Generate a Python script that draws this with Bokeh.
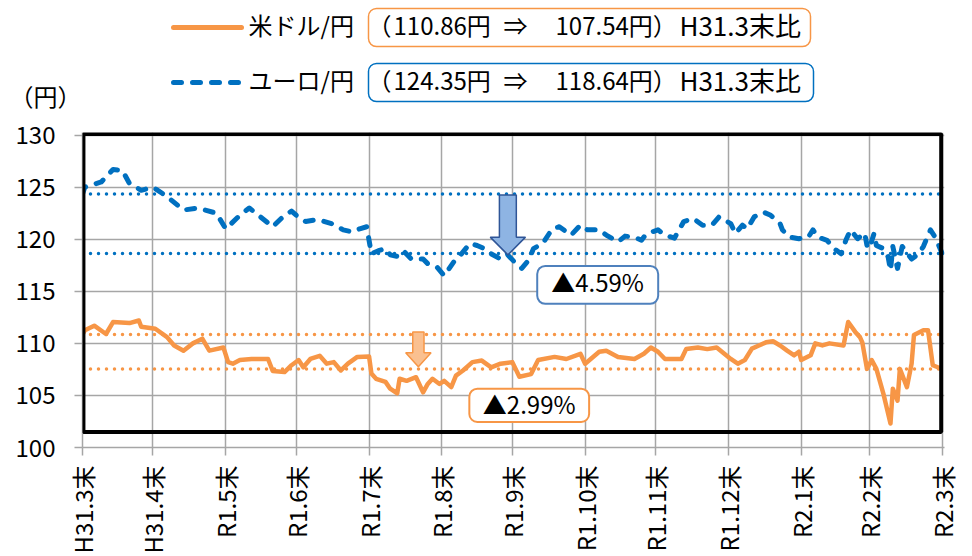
import math
from bokeh.plotting import figure
from bokeh.layouts import column
from bokeh.models import Range1d, FixedTicker, BoxAnnotation, Label
from bokeh.core.properties import value
from bokeh.embed import file_html
from bokeh.resources import INLINE

FONT = "Noto Sans CJK JP"
ORANGE = "#f79646"
BLUE = "#0070c0"
GRID = "#a6a6a6"

# ---- data -------------------------------------------------------------
tick_days = [0, 30, 61, 91, 122, 153, 183, 214, 244, 275, 306, 335, 366]
tick_labels = ["H31.3末", "H31.4末", "R1.5末", "R1.6末", "R1.7末", "R1.8末", "R1.9末",
               "R1.10末", "R1.11末", "R1.12末", "R2.1末", "R2.2末", "R2.3末"]
y_ticks = [100, 105, 110, 115, 120, 125, 130]

usd_days = [0, 1, 5, 10, 13, 20, 24, 25, 31, 36, 39, 43, 47, 51, 54, 60, 62, 64, 67, 72,
            79, 81, 86, 89, 92, 94, 97, 101, 104, 107, 110, 113, 117, 122, 123, 125, 129,
            131, 134, 135, 138, 142, 145, 147, 149, 152, 154, 157, 159, 162, 166, 170, 174,
            178, 183, 186, 191, 194, 201, 206, 212, 214, 220, 223, 228, 235, 239, 242, 245,
            248, 255, 257, 262, 266, 270, 276, 279, 282, 285, 288, 291, 294, 297, 300, 303,
            305, 306, 310, 312, 315, 318, 324, 326, 329, 331, 332, 334, 336, 338, 341, 342,
            344, 345, 347, 348, 351, 353, 354, 358, 360, 362, 366]
usd_vals = [110.86, 111.25, 111.7, 110.9, 112.05, 111.95, 112.2, 111.6, 111.4, 110.6, 109.8,
            109.3, 110.0, 110.45, 109.3, 109.6, 108.2, 108.05, 108.4, 108.5, 108.5, 107.35,
            107.25, 107.9, 108.4, 107.7, 108.5, 108.8, 108.05, 108.2, 107.4, 108.05, 108.7,
            108.75, 107.1, 106.6, 106.3, 105.65, 105.2, 106.6, 106.4, 106.75, 105.3, 106.1,
            106.6, 106.1, 106.4, 105.8, 106.9, 107.4, 108.2, 108.35, 107.7, 108.05, 108.2,
            106.8, 107.05, 108.4, 108.7, 108.5, 109.0, 108.05, 109.2, 109.3, 108.7, 108.5,
            109.0, 109.6, 109.2, 108.5, 108.5, 109.45, 109.6, 109.45, 109.6, 108.5, 108.05,
            108.4, 109.5, 109.8, 110.1, 110.2, 109.8, 109.3, 108.85, 109.2, 108.4, 108.85,
            110.0, 109.8, 110.0, 109.8, 112.05, 111.1, 110.6, 110.1, 107.55, 108.4, 107.55,
            105.15, 104.2, 102.3, 105.65, 104.5, 107.55, 105.8, 108.05, 110.8, 111.25, 111.25,
            107.9, 107.54]

eur_days = [0, 1, 8, 13, 17, 20, 25, 30, 36, 43, 49, 57, 61, 67, 71, 81, 86, 89, 91, 95,
            100, 106, 111, 115, 118, 121, 122, 123, 126, 129, 131, 135, 137, 140, 145, 147,
            151, 154, 158, 161, 165, 168, 171, 174, 178, 181, 184, 187, 190, 192, 196, 200,
            203, 208, 212, 215, 220, 223, 228, 231, 235, 238, 240, 245, 248, 252, 256, 260,
            264, 268, 271, 276, 278, 281, 283, 286, 290, 293, 297, 298, 301, 305, 309, 311,
            313, 317, 320, 323, 325, 327, 330, 333, 334, 335, 337, 338, 341, 343, 344, 345,
            347, 349, 353, 356, 358, 361, 363, 366]
eur_vals = [124.35, 125.0, 125.5, 126.7, 126.6, 125.35, 124.7, 125.0, 124.1, 122.8, 123.0,
            122.5, 121.0, 122.3, 123.0, 121.2, 122.3, 122.7, 122.3, 121.7, 121.9, 121.5,
            120.9, 120.7, 121.0, 121.2, 119.9, 118.6, 118.9, 119.1, 118.5, 118.3, 118.8,
            118.1, 118.1, 117.65, 117.3, 116.5, 117.8, 118.5, 119.6, 119.4, 119.1, 118.6,
            118.1, 118.5, 117.8, 117.2, 118.0, 119.1, 119.6, 121.0, 121.2, 120.4, 121.35,
            120.9, 120.9, 120.4, 119.75, 120.3, 120.2, 119.9, 120.5, 120.9, 120.4, 120.1,
            121.7, 122.0, 121.35, 121.35, 122.15, 121.5, 120.55, 121.35, 121.0, 122.15,
            122.6, 122.3, 121.5, 120.9, 120.2, 120.05, 120.2, 120.9, 120.2, 119.9, 119.1,
            118.6, 119.9, 120.9, 120.05, 120.6, 119.4, 119.1, 120.55, 119.4, 119.1, 118.3,
            117.0, 119.3, 117.2, 119.3, 118.1, 118.6, 119.3, 120.9, 120.2, 118.64]

usd_start, usd_end = 110.86, 107.54
eur_start, eur_end = 124.35, 118.64
usd_change = "▲2.99%"
eur_change = "▲4.59%"
usd_name = "米ドル/円"
eur_name = "ユーロ/円"
since_text = "H31.3末比"
unit_text = "（円）"

# ---- header figure (legend + unit), pixel-like coordinates --------------
HDR_H = 114
hdr = figure(width=972, height=HDR_H, output_backend="svg", toolbar_location=None,
             x_range=Range1d(0, 972), y_range=Range1d(HDR_H, 0), min_border=0,
             x_axis_type=None, y_axis_type=None)
hdr.outline_line_color = None
hdr.background_fill_color = "white"
hdr.border_fill_color = "white"
hdr.grid.grid_line_color = None

def htext(x, y, text, align="left", size="24px"):
    hdr.text(x=[x], y=[y], text=[text], text_align=align, text_baseline="middle",
             text_font=value(FONT), text_font_size=size, text_color="black")

rows = [(24, 27, ORANGE, "solid", usd_name, usd_start, usd_end, 8, 46, 810),
        (79, 82, BLUE, "8 11", eur_name, eur_start, eur_end, 63, 101, 813)]
for ty, ly, c, dash, name, v0, v1, btop, bbot, bright in rows:
    hdr.line([173, 241], [ly, ly], line_color=c, line_width=5, line_dash=dash,
             line_cap="round")
    htext(248, ty, name)
    hdr.add_layout(BoxAnnotation(left=368, right=bright, top=btop, bottom=bbot,
                                 fill_color=None, line_color=c,
                                 line_alpha=1, line_width=1.5, border_radius=8))
    htext(391, ty, "（", align="right")
    htext(393, ty, f"{v0:.2f}円")
    htext(515, ty, "⇒", align="center")
    htext(555, ty, f"{v1:.2f}円）")
    htext(679, ty, since_text, size="26px")

htext(45, 95, unit_text, align="center")

# ---- main figure --------------------------------------------------------
p = figure(width=972, height=556 - HDR_H, output_backend="svg", toolbar_location=None,
           x_range=Range1d(tick_days[0], 367), y_range=Range1d(y_ticks[0], 130.25),
           min_border_left=82, min_border_right=28, min_border_top=18, min_border_bottom=108)
p.outline_line_color = None
p.background_fill_color = "white"
p.border_fill_color = "white"

for fig in (hdr, p):
    if "frame_align" in fig.properties():
        fig.frame_align = False

for ax in (p.xaxis, p.yaxis):
    ax.axis_line_color = GRID
    ax.axis_line_width = 1.5
    ax.major_tick_line_color = GRID
    ax.major_tick_line_width = 1.5
    ax.major_tick_in = 0
    ax.major_tick_out = 8
    ax.minor_tick_line_color = None
    ax.major_label_text_font = FONT
    ax.major_label_text_font_size = "24px"
    ax.major_label_text_color = "black"

p.yaxis.ticker = FixedTicker(ticks=y_ticks)
p.yaxis.major_label_standoff = 19
p.xaxis.ticker = FixedTicker(ticks=tick_days)
p.xaxis.major_label_overrides = {d: t for d, t in zip(tick_days, tick_labels)}
p.xaxis.major_label_orientation = math.pi / 2
p.xaxis.major_label_standoff = 10

p.xgrid.ticker = FixedTicker(ticks=tick_days)
p.ygrid.ticker = FixedTicker(ticks=y_ticks)
for g in (p.xgrid, p.ygrid):
    g.grid_line_color = GRID
    g.grid_line_width = 1.5

# reference dotted lines
span_x = [tick_days[0], tick_days[-1]]
for v, c in ((usd_start, ORANGE), (usd_end, ORANGE), (eur_start, BLUE), (eur_end, BLUE)):
    p.line(span_x, [v, v], line_color=c, line_width=3.5, line_dash="0 8", line_cap="round")

# series
p.line(usd_days, usd_vals, line_color=ORANGE, line_width=4.5, line_join="round")
p.line(eur_days, eur_vals, line_color=BLUE, line_width=5, line_dash="8 11",
       line_cap="round", line_join="round")

# black frame drawn over the chart
p.add_layout(BoxAnnotation(left=0.4, right=365.6, bottom=101.5, top=130.1,
                           fill_color=None, line_color="black", line_alpha=1,
                           line_width=4))

# block arrows
def block_arrow(xc, shaft_half, head_half, top, base, tip):
    xs = [xc - shaft_half, xc + shaft_half, xc + shaft_half, xc + head_half, xc,
          xc - head_half, xc - shaft_half]
    ys = [top, top, base, base, tip, base, base]
    return xs, ys

ax_, ay_ = block_arrow(181.1, 3.6, 7.5, 124.25, 120.2, 118.5)
p.patch(ax_, ay_, fill_color="#8eb4e3", line_color="#2f5597", line_width=1.5)
ox_, oy_ = block_arrow(143.0, 2.4, 5.4, 111.1, 109.1, 107.75)
p.patch(ox_, oy_, fill_color="#fac090", line_color=ORANGE, line_width=1.5)

# change boxes
p.add_layout(BoxAnnotation(left=193.6, right=245.1, top=117.44, bottom=113.8,
                           fill_color="white", fill_alpha=1, line_color="#4f81bd",
                           line_alpha=1, line_width=2, border_radius=8))
p.add_layout(Label(x=219.3, y=115.9, text=eur_change, text_align="center",
                   text_baseline="middle", text_font=FONT, text_font_size="24px",
                   text_color="black"))
p.add_layout(BoxAnnotation(left=164.7, right=215.7, top=105.65, bottom=102.45,
                           fill_color="white", fill_alpha=1, line_color=ORANGE,
                           line_alpha=1, line_width=2, border_radius=8))
p.add_layout(Label(x=190.2, y=104.25, text=usd_change, text_align="center",
                   text_baseline="middle", text_font=FONT, text_font_size="24px",
                   text_color="black"))

open("out.html", "w").write(file_html(column(hdr, p, spacing=0), INLINE))
